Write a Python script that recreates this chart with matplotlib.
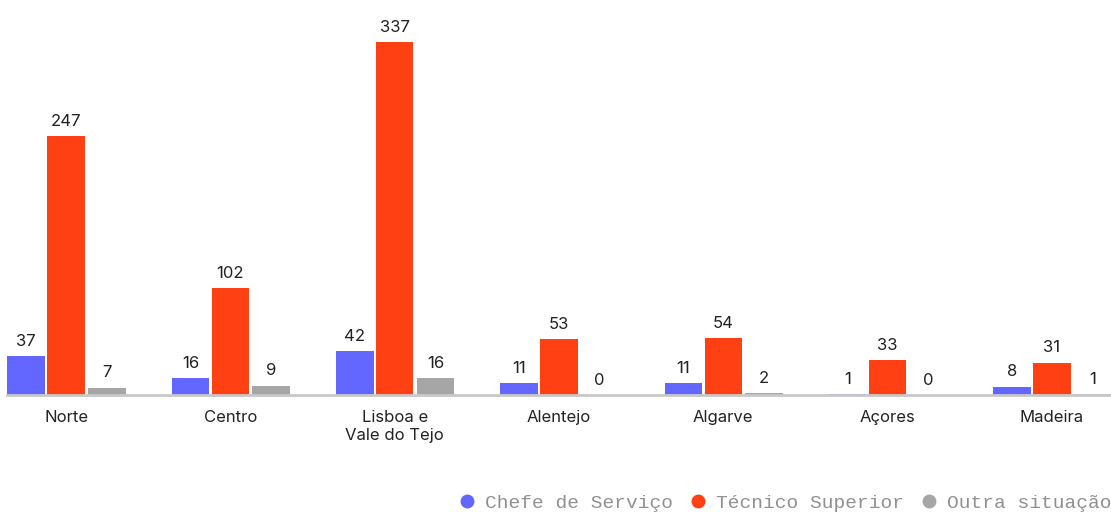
import matplotlib.pyplot as plt
import numpy as np
from matplotlib.lines import Line2D

regions = ["Norte", "Centro", "Lisboa e\nVale do Tejo", "Alentejo", "Algarve", "Açores", "Madeira"]
chefe_servico = [37, 16, 42, 11, 11, 1, 8]
tecnico_superior = [247, 102, 337, 53, 54, 33, 31]
outra_situacao = [7, 9, 16, 0, 2, 0, 1]

series = [
    ("Chefe de Serviço", chefe_servico, "#6366ff"),
    ("Técnico Superior", tecnico_superior, "#ff4013"),
    ("Outra situação", outra_situacao, "#a6a6a6"),
]

plt.rcParams["font.family"] = ["Inter", "DejaVu Sans"]

fig = plt.figure(figsize=(11.11, 5.12), dpi=100)
ax = fig.add_axes([7 / 1111, 117 / 512, 1104 / 1111, 395 / 512])

x = np.arange(len(regions))
offsets = [-0.243, 0.0, 0.248]
width = 0.228

for (name, values, color), off in zip(series, offsets):
    # start bars a little under the axis line so small values stay visible
    bars = ax.bar(x + off, np.array(values) + 1.5, width, bottom=-1.5, color=color, zorder=2)
    for xi, v in zip(x + off, values):
        ax.text(xi, v + 7, str(v), ha="center", va="bottom", fontsize=12, color="#222222")

ax.set_xlim(-0.36, 6.36)
ax.set_ylim(0, 377)
ax.set_yticks([])
ax.set_xticks(x)
ax.set_xticklabels(regions, fontsize=12, color="#222222", linespacing=1.2, va="top")
ax.tick_params(axis="x", length=0, pad=11)
for side in ["top", "right", "left"]:
    ax.spines[side].set_visible(False)
ax.spines["bottom"].set_color("#c8c8c8")
ax.spines["bottom"].set_linewidth(2)
ax.spines["bottom"].set_zorder(3)

handles = [Line2D([], [], marker="o", linestyle="", markersize=9, color=c, label=n)
           for n, _, c in series]
fig.legend(handles=handles, loc="lower right", bbox_to_anchor=(1.011, -0.022), ncol=3,
           frameon=False, prop={"family": "Liberation Mono", "size": 14},
           labelcolor="#909090", handlelength=1.2, handletextpad=0.35,
           columnspacing=0.65, borderaxespad=0.2)

fig.savefig("out.png", dpi=100)
